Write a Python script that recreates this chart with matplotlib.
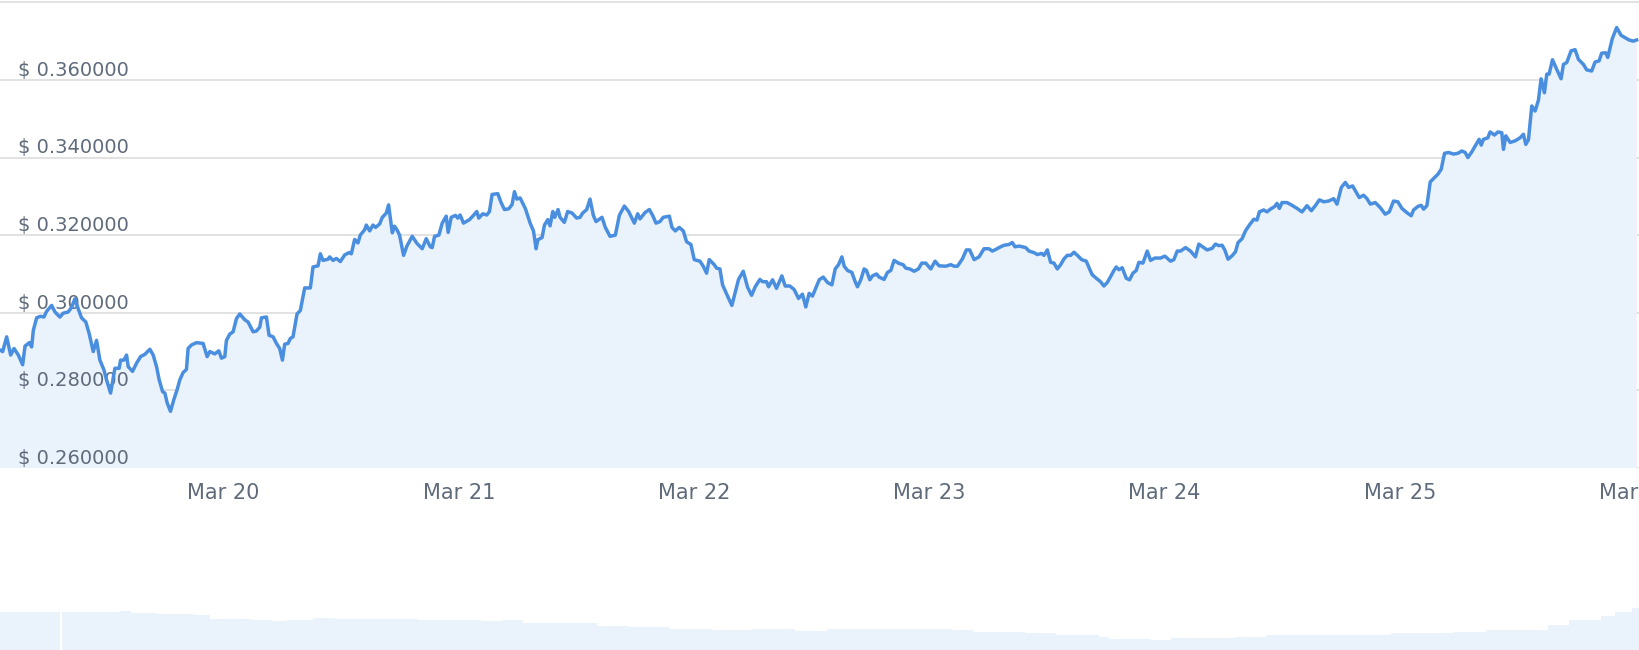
import matplotlib
matplotlib.use("Agg")
from matplotlib import pyplot as plt
import matplotlib.dates as mdates
from datetime import datetime, timedelta

# price series: hours after the first sample, price in $
hours = [0.0, 0.27, 0.68, 1.09, 1.43, 1.87, 2.31, 2.55, 2.99, 3.23, 3.40, 3.74, 4.14, 4.48, 4.76,
         5.27, 5.61, 6.11, 6.45, 6.96, 7.30, 7.64, 7.98, 8.32, 8.76, 9.10, 9.51, 9.85, 10.19, 10.60,
         10.87, 11.28, 11.72, 12.16, 12.30, 12.64, 12.91, 13.08, 13.52, 13.93, 14.34, 14.78, 15.29,
         15.63, 15.97, 16.24, 16.58, 16.82, 17.05, 17.39, 17.73, 18.07, 18.34, 18.68, 19.02, 19.19,
         19.53, 20.04, 20.72, 21.13, 21.40, 21.91, 22.32, 22.59, 22.93, 23.10, 23.44, 23.78, 24.12,
         24.46, 24.97, 25.31, 25.82, 26.16, 26.50, 26.67, 27.18, 27.45, 27.86, 28.20, 28.53, 28.81,
         29.04, 29.38, 29.62, 29.89, 30.30, 30.64, 31.08, 31.66, 31.93, 32.44, 32.68, 32.95, 33.46,
         33.63, 33.97, 34.31, 34.72, 35.16, 35.60, 35.84, 36.18, 36.52, 36.75, 37.20, 37.37, 37.71,
         38.05, 38.32, 38.73, 39.00, 39.41, 39.64, 40.02, 40.25, 40.49, 40.76,
         41.17, 41.51, 42.05, 42.53, 43.07, 43.48, 43.89, 44.09, 44.33, 44.77, 45.11, 45.52, 45.72,
         46.03, 46.47, 46.70, 46.94, 47.28, 47.89, 48.30, 48.64, 48.84, 49.25, 49.66, 49.93, 50.20,
         50.78, 51.12, 51.46, 51.90, 52.24, 52.48, 52.72, 53.06, 53.60, 54.08, 54.42, 54.69, 54.86,
         55.30, 55.54, 55.88, 56.11, 56.39, 56.59, 56.93, 57.13, 57.57, 57.91, 58.36, 58.83, 59.17,
         59.44, 59.85, 60.19, 60.53, 60.80, 61.41, 61.75, 62.23, 62.77, 63.18, 63.69, 64.13, 64.71,
         65.05, 65.29, 65.83, 66.24, 66.58, 66.92, 67.32, 67.66, 68.28, 68.55, 68.89, 69.29, 69.70,
         70.04, 70.48, 70.82, 71.40, 71.74, 72.08, 72.35, 72.86, 73.10, 73.44, 73.71, 74.22, 74.66,
         75.07, 75.34, 75.82, 76.26, 76.67, 77.04, 77.52, 77.79, 78.20, 78.40, 78.81, 79.21, 79.76,
         80.10, 80.57, 81.01, 81.46, 81.86, 82.20, 82.54, 82.88,
         83.57, 83.98, 84.42, 84.86, 85.20, 85.54, 85.88, 86.12, 86.46, 86.90, 87.24, 87.47, 87.81,
         88.15, 88.39, 88.73, 89.00, 89.41, 89.68, 90.19, 90.53, 90.87, 91.21, 91.72, 92.13, 92.40,
         92.81, 93.25, 93.69, 94.03, 94.44, 94.95, 95.39, 95.80, 96.48, 96.99, 97.33, 97.67, 98.18,
         98.58, 98.92, 99.37, 99.87, 100.38, 100.89, 101.23, 101.57, 101.91, 102.42, 102.93, 103.27,
         103.54, 103.95, 104.29, 104.63, 104.97, 105.48, 105.82, 106.26, 106.50, 106.84, 107.18,
         107.52, 107.86, 108.20, 108.54, 108.88, 109.22, 109.56, 109.99, 110.34, 110.81, 111.15,
         111.42, 111.83, 112.27, 112.61, 112.95, 113.29, 113.63, 113.87, 114.14, 114.48, 114.89,
         115.23, 115.57, 115.91, 116.18, 116.59, 117.03, 117.37, 117.81, 118.39, 118.83, 119.41,
         119.75, 120.09, 120.43, 120.94, 121.45, 121.95,
         122.29, 122.63, 123.14, 123.65, 123.99, 124.33, 124.67, 124.94, 125.28, 125.69, 126.03,
         126.30, 126.71, 127.05, 127.45, 127.90, 128.23, 128.47, 128.91, 129.25, 129.59, 130.04,
         130.27, 130.51, 130.78, 131.29, 131.80, 132.31, 132.82, 133.33, 133.77, 134.18, 134.59,
         135.03, 135.54, 136.05, 136.39, 136.83, 137.24, 137.58, 137.98, 138.32, 138.66, 139.11,
         139.45, 139.79, 140.29, 140.80, 141.31, 141.72, 142.16, 142.60, 143.01, 143.52, 143.96,
         144.20, 144.64, 144.98, 145.22, 145.56, 145.90, 146.24, 146.68, 147.02, 147.36, 147.77,
         148.28, 148.72, 149.13, 149.47, 149.74, 150.15, 150.49, 150.89, 151.10, 151.33, 151.78,
         152.01, 152.46, 152.80, 153.20, 153.37, 153.61, 154.05, 154.56, 155.07, 155.41, 155.65,
         155.92, 156.26, 156.60, 156.94, 157.21, 157.55, 157.79, 158.03, 158.37, 158.81, 159.25,
         159.49, 159.83, 160.27, 160.68, 161.02, 161.53, 161.86, 162.37, 162.71, 163.12, 163.39,
         163.80, 164.01, 164.48, 164.92, 165.37, 165.77, 166.18, 166.62, 166.96]

prices = [0.2904, 0.2900, 0.2938, 0.2891, 0.2908, 0.2891, 0.2866, 0.2914, 0.2923, 0.2912, 0.2955,
          0.2987, 0.2991, 0.2989, 0.3004, 0.3019, 0.3002, 0.2989, 0.2999, 0.3002, 0.3014, 0.3036,
          0.3010, 0.2987, 0.2976, 0.2946, 0.2900, 0.2929, 0.2878, 0.2853, 0.2827, 0.2793, 0.2857,
          0.2857, 0.2878, 0.2878, 0.2891, 0.2861, 0.2849, 0.2870, 0.2887, 0.2893, 0.2906, 0.2891,
          0.2861, 0.2827, 0.2797, 0.2793, 0.2768, 0.2746, 0.2776, 0.2802, 0.2827, 0.2846, 0.2854,
          0.2908, 0.2917, 0.2923, 0.2921, 0.2887, 0.2900, 0.2894, 0.2902, 0.2883, 0.2887, 0.2929,
          0.2945, 0.2951, 0.2985, 0.2997, 0.2982, 0.2976, 0.2951, 0.2953, 0.2963, 0.2987, 0.2989,
          0.2942, 0.2938, 0.2921, 0.2908, 0.2878, 0.2919, 0.2921, 0.2934, 0.2938, 0.2997, 0.3006,
          0.3064, 0.3064, 0.3118, 0.3121, 0.3152, 0.3135, 0.3138, 0.3144, 0.3135, 0.3140, 0.3132,
          0.3149, 0.3155, 0.3152, 0.3189, 0.3180, 0.3200, 0.3214, 0.3226, 0.3211, 0.3226, 0.3220,
          0.3229, 0.3246, 0.3257, 0.3278, 0.3206, 0.3223, 0.3214, 0.3200,
          0.3148, 0.3172, 0.3197, 0.3179, 0.3165, 0.3191, 0.3170, 0.3168, 0.3197, 0.3200, 0.3231,
          0.3249, 0.3207, 0.3246, 0.3251, 0.3244, 0.3252, 0.3231, 0.3240, 0.3251, 0.3261, 0.3244,
          0.3255, 0.3252, 0.3261, 0.3305, 0.3307, 0.3284, 0.3266, 0.3268, 0.3279, 0.3312, 0.3293,
          0.3296, 0.3268, 0.3231, 0.3211, 0.3165, 0.3188, 0.3194, 0.3226, 0.3240, 0.3224, 0.3261,
          0.3246, 0.3266, 0.3246, 0.3233, 0.3261, 0.3257, 0.3244, 0.3246, 0.3257, 0.3266, 0.3293,
          0.3251, 0.3235, 0.3246, 0.3220, 0.3197, 0.3200, 0.3251, 0.3275, 0.3261, 0.3231, 0.3255,
          0.3242, 0.3259, 0.3266, 0.3251, 0.3231, 0.3235, 0.3246, 0.3249, 0.3220, 0.3211, 0.3220,
          0.3211, 0.3183, 0.3176, 0.3137, 0.3133, 0.3120, 0.3102, 0.3137, 0.3124, 0.3115, 0.3113,
          0.3072, 0.3043, 0.3019, 0.3059, 0.3086, 0.3107, 0.3066, 0.3045, 0.3067, 0.3086, 0.3080,
          0.3080, 0.3067, 0.3085, 0.3063, 0.3095, 0.3069, 0.3069, 0.3060, 0.3037, 0.3048, 0.3015,
          0.3050, 0.3043,
          0.3085, 0.3092, 0.3078, 0.3072, 0.3113, 0.3124, 0.3144, 0.3120, 0.3109, 0.3104, 0.3080,
          0.3067, 0.3085, 0.3113, 0.3109, 0.3085, 0.3095, 0.3100, 0.3092, 0.3086, 0.3104, 0.3109,
          0.3135, 0.3127, 0.3124, 0.3115, 0.3113, 0.3107, 0.3113, 0.3128, 0.3128, 0.3113, 0.3133,
          0.3121, 0.3120, 0.3124, 0.3120, 0.3120, 0.3139, 0.3162, 0.3162, 0.3137, 0.3144, 0.3165,
          0.3165, 0.3159, 0.3163, 0.3168, 0.3174, 0.3176, 0.3181, 0.3170, 0.3172, 0.3170, 0.3168,
          0.3159, 0.3155, 0.3150, 0.3153, 0.3148, 0.3162, 0.3130, 0.3128, 0.3113, 0.3124, 0.3139,
          0.3148, 0.3148, 0.3156, 0.3146, 0.3137, 0.3133, 0.3113, 0.3098, 0.3089, 0.3080, 0.3069,
          0.3078, 0.3093, 0.3109, 0.3118, 0.3111, 0.3116, 0.3089, 0.3085, 0.3102, 0.3109, 0.3130,
          0.3128, 0.3159, 0.3135, 0.3141, 0.3141, 0.3146, 0.3133, 0.3137, 0.3159, 0.3159, 0.3168,
          0.3159, 0.3144,
          0.3177, 0.3171, 0.3162, 0.3166, 0.3177, 0.3173, 0.3174, 0.3162, 0.3138, 0.3147, 0.3157,
          0.3181, 0.3191, 0.3211, 0.3226, 0.3241, 0.3239, 0.3260, 0.3265, 0.3260, 0.3267, 0.3274,
          0.3282, 0.3269, 0.3284, 0.3284, 0.3277, 0.3269, 0.3260, 0.3276, 0.3263, 0.3276, 0.3291,
          0.3286, 0.3288, 0.3294, 0.3280, 0.3323, 0.3336, 0.3323, 0.3327, 0.3312, 0.3297, 0.3303,
          0.3294, 0.3280, 0.3284, 0.3271, 0.3254, 0.3260, 0.3288, 0.3286, 0.3269, 0.3258, 0.3250,
          0.3265, 0.3274, 0.3277, 0.3267, 0.3276, 0.3337, 0.3346, 0.3357, 0.3370, 0.3411, 0.3413,
          0.3409, 0.3411, 0.3417, 0.3413, 0.3400, 0.3415, 0.3430, 0.3447, 0.3432, 0.3447, 0.3451,
          0.3466, 0.3458, 0.3466, 0.3464, 0.3421, 0.3456, 0.3439, 0.3443, 0.3451, 0.3460, 0.3434,
          0.3446, 0.3533, 0.3520, 0.3548, 0.3603, 0.3567, 0.3615, 0.3615, 0.3652, 0.3627, 0.3603,
          0.3640, 0.3645, 0.3675, 0.3678, 0.3653, 0.3640, 0.3626, 0.3623, 0.3646, 0.3649, 0.3669,
          0.3670, 0.3658, 0.3707, 0.3735, 0.3715, 0.3709, 0.3703, 0.3700, 0.3703]

# long range navigator series (share of the span, relative level)
nav_pos = [0.0, 0.032, 0.038, 0.057, 0.073, 0.080, 0.096, 0.118, 0.128, 0.153, 0.166, 0.175, 0.191,
           0.204, 0.223, 0.242, 0.255, 0.274, 0.293, 0.306, 0.319, 0.344, 0.364, 0.383, 0.408,
           0.434, 0.459, 0.485, 0.504, 0.529, 0.561, 0.580, 0.593, 0.625, 0.644, 0.670, 0.676,
           0.702, 0.714, 0.753, 0.772, 0.804, 0.848, 0.874, 0.886, 0.906, 0.934, 0.944, 0.957,
           0.976, 0.985, 0.995, 1.0]
nav_level = [38.3, 37.7, 37.7, 38.3, 39.3, 37.3, 35.7, 35.0, 30.7, 30.0, 28.7, 30.0, 31.7, 30.7,
             31.0, 30.7, 30.0, 30.0, 29.3, 29.7, 27.3, 26.7, 24.3, 23.3, 21.3, 20.3, 20.7, 19.3,
             21.0, 21.0, 20.7, 20.0, 18.0, 16.7, 15.0, 12.7, 10.7, 10.0, 12.3, 12.7, 14.7, 15.3,
             16.7, 16.7, 18.3, 20.0, 20.0, 25.0, 30.0, 34.0, 38.3, 41.7, 41.7]

y_ticks = [0.26, 0.28, 0.30, 0.32, 0.34, 0.36, 0.38]
y_labels = ["$ 0.260000", "$ 0.280000", "$ 0.300000", "$ 0.320000", "$ 0.340000", "$ 0.360000"]

start = datetime(2024, 3, 19, 1, 12)
times = [start + timedelta(hours=h) for h in hours]

line_col = "#4a8fdf"
fill_col = "#eaf2fc"
text_col = "#5f6b7b"
grid_col = "#e2e2e2"

fig = plt.figure(figsize=(16.4, 6.5), dpi=100)
ax = fig.add_axes([0, 182 / 650, 1, 468 / 650])

ax.fill_between(times, prices, 0.2, color=fill_col, lw=0, zorder=1)
ax.plot(times, prices, color=line_col, lw=2.5, zorder=4, solid_joinstyle="round")

ax.set_ylim(0.26, 0.3806)
ax.set_xlim(start, start + timedelta(hours=167.3))
ax.set_yticks(y_ticks)
ax.yaxis.grid(True, color=grid_col, lw=1.4, zorder=2)
ax.set_axisbelow(True)
ax.tick_params(axis="y", left=False, labelleft=False)
for v, lab in zip(y_ticks, y_labels):
    ax.annotate(lab, xy=(0, v), xycoords=("axes fraction", "data"), xytext=(13, 3),
                textcoords="offset points", va="baseline", ha="left",
                fontsize=14, color=text_col, zorder=3)

ax.xaxis.set_major_locator(mdates.DayLocator())
ax.xaxis.set_major_formatter(mdates.DateFormatter("%b %d"))
ax.tick_params(axis="x", length=0, pad=11, labelsize=15, labelcolor=text_col)
for s in ax.spines.values():
    s.set_visible(False)

# navigator strip at the bottom
nav = fig.add_axes([0, 0, 1, 70 / 650])
nav.fill_between(nav_pos, nav_level, 0, step="post", color=fill_col, lw=0)
nav.axvline(0.037, ymax=0.6, color="white", lw=1.5)
nav.set_xlim(0, 1)
nav.set_ylim(0, 70)
nav.axis("off")

fig.savefig("out.png", dpi=100, facecolor="white")
